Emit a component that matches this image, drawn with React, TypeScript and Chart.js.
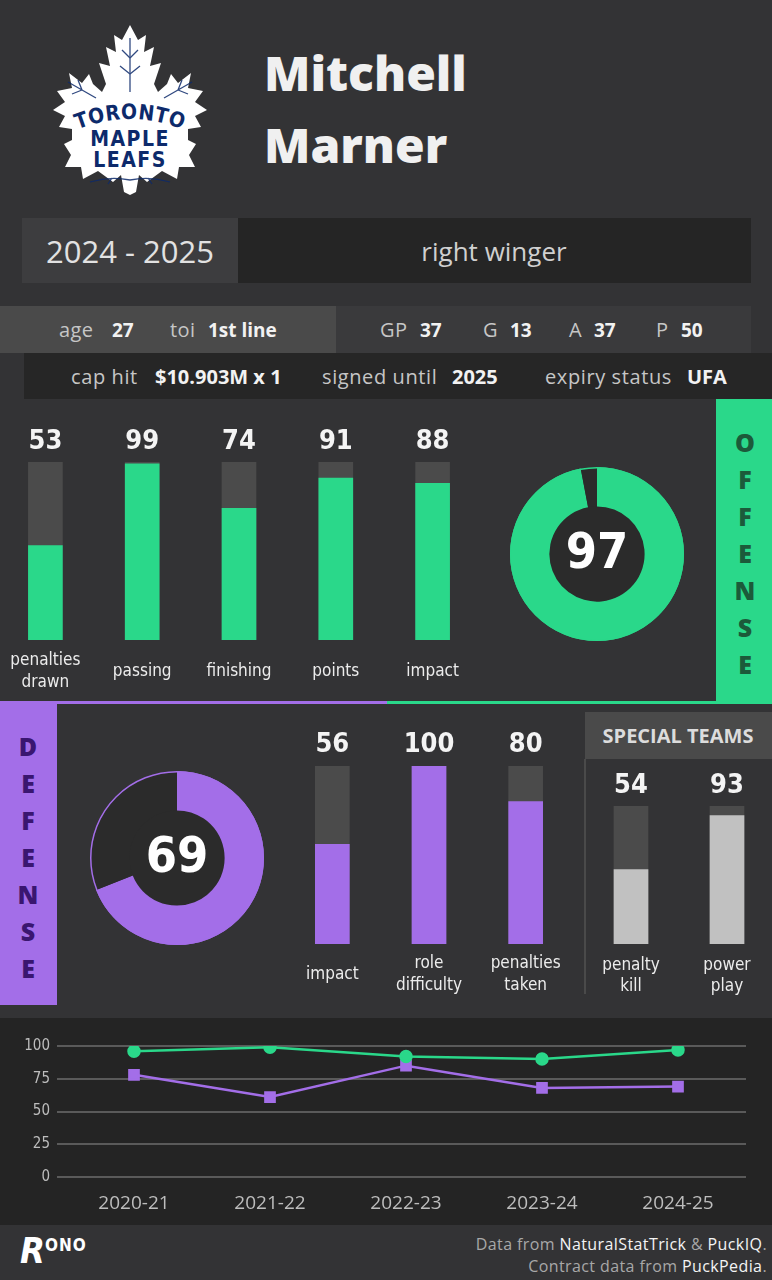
import React, { useEffect, useRef } from "react";
import { Chart, registerables } from "chart.js";

Chart.register(...registerables);

// ---------- data ----------
const FIRST_NAME = "Mitchell";
const LAST_NAME = "Marner";
const SEASON = "2024 - 2025";
const POSITION = "right winger";
const INFO_ROW = [
  { label: "age", value: "27", lx: 59, vx: 112 },
  { label: "toi", value: "1st line", lx: 170, vx: 208 },
  { label: "GP", value: "37", lx: 380, vx: 420 },
  { label: "G", value: "13", lx: 483, vx: 510 },
  { label: "A", value: "37", lx: 569, vx: 594 },
  { label: "P", value: "50", lx: 656, vx: 681 },
];
const CONTRACT_ROW = [
  { label: "cap hit", value: "$10.903M x 1", lx: 71, vx: 155 },
  { label: "signed until", value: "2025", lx: 322, vx: 452 },
  { label: "expiry status", value: "UFA", lx: 545, vx: 687 },
];

const OFFENSE_LABELS = [["penalties", "drawn"], ["passing"], ["finishing"], ["points"], ["impact"]];
const OFFENSE_VALUES = [53, 99, 74, 91, 88];
const OFFENSE_SCORE = 97;

const DEFENSE_LABELS = [["impact"], ["role", "difficulty"], ["penalties", "taken"]];
const DEFENSE_VALUES = [56, 100, 80];
const DEFENSE_SCORE = 69;

const SPECIAL_LABELS = [["penalty", "kill"], ["power", "play"]];
const SPECIAL_VALUES = [54, 93];

const SEASONS = ["2020-21", "2021-22", "2022-23", "2023-24", "2024-25"];
const OFFENSE_TREND = [96, 99, 92, 90, 97];
const DEFENSE_TREND = [78, 61, 85, 68, 69];
const Y_STEP = 25;
const SCALE_MAX = 100;

// ---------- style ----------
const BG = "#333335";
const GREEN = "#2ad88a";
const PURPLE = "#a36ee8";
const TRACK = "#4b4b4b";
const LIGHT = "#c1c1c1";
const HOLE = "#2b2b2b";
const UI = '"Open Sans", "Noto Sans", sans-serif';
const COND = '"DejaVu Sans Condensed", "DejaVu Sans", sans-serif';

type BarProps = {
  left: number; top: number; width: number; height: number;
  padTop: number; padBottom: number;
  labels: string[][]; values: number[]; color: string;
  valueGap: number; oneLine: number; twoLine: [number, number];
};

function BarPanel(p: BarProps) {
  const ref = useRef<HTMLCanvasElement>(null);
  useEffect(() => {
    const textPlugin = {
      id: "barText",
      afterDraw(chart: any) {
        const { ctx, chartArea } = chart;
        const xs = chart.scales.x;
        ctx.save();
        ctx.textAlign = "center";
        ctx.textBaseline = "middle";
        p.values.forEach((v, i) => {
          const x = xs.getPixelForValue(i);
          ctx.fillStyle = "#f4f4f4";
          ctx.font = `bold 27px ${COND}`;
          ctx.fillText(String(v), x, chartArea.top - p.valueGap);
          ctx.font = `17px ${COND}`;
          ctx.fillStyle = "#ececec";
          const lines = p.labels[i];
          if (lines.length === 1) ctx.fillText(lines[0], x, chartArea.bottom + p.oneLine);
          else lines.forEach((l, j) => ctx.fillText(l, x, chartArea.bottom + p.twoLine[j]));
        });
        ctx.restore();
      },
    };
    const chart = new Chart(ref.current as HTMLCanvasElement, {
      type: "bar",
      data: {
        labels: p.labels.map((l) => l.join(" ")),
        datasets: [
          { data: p.values, backgroundColor: p.color, barThickness: 34, grouped: false, order: 0 } as any,
          { data: p.values.map(() => SCALE_MAX), backgroundColor: TRACK, barThickness: 34, grouped: false, order: 1 } as any,
        ],
      },
      options: {
        animation: false,
        responsive: false,
        maintainAspectRatio: false,
        layout: { padding: { top: p.padTop, bottom: p.padBottom, left: 0, right: 0 } },
        plugins: { legend: { display: false }, tooltip: { enabled: false } },
        scales: {
          x: { display: false, offset: true },
          y: { display: false, min: 0, max: SCALE_MAX },
        },
      },
      plugins: [textPlugin],
    });
    return () => chart.destroy();
  }, []);
  return (
    <canvas
      ref={ref}
      width={p.width}
      height={p.height}
      style={{ position: "absolute", left: p.left, top: p.top, width: p.width, height: p.height }}
    />
  );
}

function Donut({ cx, cy, score, color }: { cx: number; cy: number; score: number; color: string }) {
  const ref = useRef<HTMLCanvasElement>(null);
  useEffect(() => {
    const center = {
      id: "donutCenter",
      beforeDatasetsDraw(chart: any) {
        const { ctx } = chart;
        const a = chart.getDatasetMeta(0).data[0];
        ctx.save();
        ctx.beginPath();
        ctx.arc(a.x, a.y, a.innerRadius + 1, 0, Math.PI * 2);
        ctx.fillStyle = HOLE;
        ctx.fill();
        ctx.restore();
      },
      afterDatasetsDraw(chart: any) {
        const { ctx } = chart;
        const a = chart.getDatasetMeta(0).data[0];
        ctx.save();
        ctx.beginPath();
        ctx.arc(a.x, a.y, a.outerRadius - 0.75, 0, Math.PI * 2);
        ctx.strokeStyle = color;
        ctx.lineWidth = 1.5;
        ctx.stroke();
        ctx.fillStyle = "#ffffff";
        ctx.font = `bold 50px ${COND}`;
        ctx.textAlign = "center";
        ctx.textBaseline = "middle";
        ctx.fillText(String(score), a.x, a.y + 1);
        ctx.restore();
      },
    };
    const chart = new Chart(ref.current as HTMLCanvasElement, {
      type: "doughnut",
      data: {
        labels: ["score", "rest"],
        datasets: [{ data: [score, SCALE_MAX - score], backgroundColor: [color, HOLE], borderWidth: 0 }],
      },
      options: {
        animation: false,
        responsive: false,
        maintainAspectRatio: false,
        radius: 87,
        cutout: 52,
        plugins: { legend: { display: false }, tooltip: { enabled: false } },
      } as any,
      plugins: [center],
    });
    return () => chart.destroy();
  }, []);
  return (
    <canvas ref={ref} width={190} height={190}
      style={{ position: "absolute", left: cx - 95, top: cy - 95, width: 190, height: 190 }} />
  );
}

function TrendChart() {
  const ref = useRef<HTMLCanvasElement>(null);
  useEffect(() => {
    const chart = new Chart(ref.current as HTMLCanvasElement, {
      type: "line",
      data: {
        labels: SEASONS,
        datasets: [
          { label: "offense", data: OFFENSE_TREND, borderColor: GREEN, backgroundColor: GREEN, borderWidth: 2.5, pointStyle: "circle", pointRadius: 5.5, tension: 0 },
          { label: "defense", data: DEFENSE_TREND, borderColor: PURPLE, backgroundColor: PURPLE, borderWidth: 2.5, pointStyle: "rect", pointRadius: 6.5, tension: 0 },
        ],
      },
      options: {
        animation: false,
        responsive: false,
        maintainAspectRatio: false,
        layout: { padding: { top: 28, right: 26, left: 0, bottom: 0 } },
        plugins: { legend: { display: false }, tooltip: { enabled: false } },
        scales: {
          x: {
            offset: true,
            grid: { display: false },
            border: { display: false },
            ticks: { color: "#bdbdbd", font: { family: UI, size: 19 }, padding: 7 },
            afterFit: (s: any) => { s.height = 48; },
          },
          y: {
            min: 0,
            max: SCALE_MAX,
            ticks: { stepSize: Y_STEP, color: "#bdbdbd", font: { family: COND, size: 15 }, padding: 7 },
            grid: { color: "#5a5a5a", lineWidth: 2, tickLength: 9, drawTicks: true },
            border: { display: false },
            afterFit: (s: any) => { s.width = 66; },
          },
        },
      } as any,
    });
    return () => chart.destroy();
  }, []);
  return <canvas ref={ref} width={772} height={207} style={{ position: "absolute", left: 0, top: 1018, width: 772, height: 207 }} />;
}

function Box({ x, y, w, h, bg }: { x: number; y: number; w: number; h: number; bg: string }) {
  return <div style={{ position: "absolute", left: x, top: y, width: w, height: h, background: bg }} />;
}

function Txt({ x, y, size, color, weight = 400, family = UI, anchor = "start", children, ls = 0 }: any) {
  const style: any = {
    position: "absolute", top: y - size, height: size * 2, lineHeight: `${size * 2}px`,
    fontSize: size, fontWeight: weight, color, fontFamily: family, whiteSpace: "nowrap", letterSpacing: ls,
  };
  if (anchor === "middle") { style.left = x; style.transform = "translateX(-50%)"; }
  else if (anchor === "end") { style.right = 772 - x; }
  else style.left = x;
  return <div style={style}>{children}</div>;
}

function Leaf() {
  const half = [
    [80, 3], [88, 18], [96, 13], [94, 30], [104, 25], [100, 44], [111, 41], [104, 62], [108, 70],
    [117, 62], [121, 52], [128, 61], [141, 51], [138, 66], [153, 69], [145, 80], [157, 88], [145, 94],
    [151, 105], [138, 107], [138, 118], [146, 122], [139, 133], [145, 145], [129, 145], [127, 157],
    [112, 149], [97, 160], [89, 153], [86, 170], [80, 173],
  ];
  const right = half.slice(1, -1);
  const left = right.map(([x, y]) => [160 - x, y]).reverse();
  const pts = [half[0], ...right, half[half.length - 1], ...left].map((q) => q.join(",")).join(" ");
  const NAVY = "#0d2a6b";
  return (
    <svg width={160} height={176} style={{ position: "absolute", left: 50, top: 22 }}>
      <polygon points={pts} fill="#ffffff" />
      <g stroke={NAVY} strokeWidth={1.3} fill="none" opacity={0.85}>
        <path d="M80 16 L80 70" />
        <path d="M80 36 L72 28 M80 36 L88 28 M80 52 L70 44 M80 52 L90 44" />
        <path d="M114 76 L142 60 M128 68 L132 58 M128 68 L138 72" />
        <path d="M46 76 L18 60 M32 68 L28 58 M32 68 L22 72" />
        <path d="M40 160 Q60 154 80 158 Q100 154 120 160 M62 156 L58 162 M98 156 L102 162" />
      </g>
      <defs>
        <path id="arcT" d="M26 108 Q80 86 134 108" />
      </defs>
      <text fill={NAVY} fontFamily={COND} fontWeight={700} fontSize={21} letterSpacing={0.5}>
        <textPath href="#arcT" startOffset="50%" textAnchor="middle">TORONTO</textPath>
      </text>
      <text x={80} y={124} fill={NAVY} fontFamily={COND} fontWeight={700} fontSize={21} textAnchor="middle" letterSpacing={1.5}>MAPLE</text>
      <text x={80} y={145} fill={NAVY} fontFamily={COND} fontWeight={700} fontSize={21} textAnchor="middle" letterSpacing={1.5}>LEAFS</text>
    </svg>
  );
}

function SideWord({ word, x, y0, step, color }: { word: string; x: number; y0: number; step: number; color: string }) {
  return (
    <>
      {word.split("").map((c, i) => (
        <Txt key={i} x={x} y={y0 + i * step} size={25} weight={800} color={color} anchor="middle">{c}</Txt>
      ))}
    </>
  );
}

export default function App() {
  return (
    <div style={{ position: "relative", width: 772, height: 1280, background: BG, overflow: "hidden", fontFamily: UI }}>
      <style>{"body{margin:0;background:#333335}"}</style>
      <Leaf />
      <Txt x={264} y={73} size={48} weight={800} color="#f0f0f0">{FIRST_NAME}</Txt>
      <Txt x={264} y={145} size={48} weight={800} color="#f0f0f0">{LAST_NAME}</Txt>

      <Box x={22} y={218} w={216} h={65} bg="#3d3d3f" />
      <Box x={238} y={218} w={513} h={65} bg="#252525" />
      <Txt x={130} y={251} size={31} color="#e2e2e2" anchor="middle">{SEASON}</Txt>
      <Txt x={494} y={251} size={26} color="#d0d0d0" anchor="middle">{POSITION}</Txt>

      <Box x={0} y={306} w={336} h={47} bg="#4a4a4a" />
      <Box x={336} y={306} w={415} h={47} bg="#3a3a3c" />
      {INFO_ROW.map((r, i) => (
        <React.Fragment key={i}>
          <Txt x={r.lx} y={330} size={20} color="#c6c6c6" ls={0.4}>{r.label}</Txt>
          <Txt x={r.vx} y={330} size={19} weight={700} color="#f2f2f2">{r.value}</Txt>
        </React.Fragment>
      ))}
      <Box x={24} y={353} w={748} h={46} bg="#262626" />
      {CONTRACT_ROW.map((r, i) => (
        <React.Fragment key={i}>
          <Txt x={r.lx} y={377} size={20} color="#c6c6c6" ls={0.6}>{r.label}</Txt>
          <Txt x={r.vx} y={377} size={20} weight={700} color="#f2f2f2">{r.value}</Txt>
        </React.Fragment>
      ))}

      {/* offense */}
      <Box x={716} y={399} w={56} h={304} bg={GREEN} />
      <SideWord word="OFFENSE" x={745} y0={442} step={37} color="#1c5a3a" />
      <BarPanel left={-3} top={400} width={484} height={300} padTop={62} padBottom={60}
        labels={OFFENSE_LABELS} values={OFFENSE_VALUES} color={GREEN}
        valueGap={20} oneLine={32} twoLine={[21, 43]} />
      <Donut cx={597} cy={554} score={OFFENSE_SCORE} color={GREEN} />

      <Box x={0} y={701} w={387} h={3} bg={PURPLE} />
      <Box x={387} y={701} w={385} h={3} bg={GREEN} />

      {/* defense */}
      <Box x={0} y={704} w={57} h={301} bg={PURPLE} />
      <SideWord word="DEFENSE" x={28} y0={746} step={37} color="#3a1670" />
      <Donut cx={177} cy={858} score={DEFENSE_SCORE} color={PURPLE} />
      <BarPanel left={284} top={720} width={290} height={290} padTop={46} padBottom={66}
        labels={DEFENSE_LABELS} values={DEFENSE_VALUES} color={PURPLE}
        valueGap={21} oneLine={31} twoLine={[20, 42]} />

      {/* special teams */}
      <Box x={585} y={712} w={187} h={47} bg="#4a4a4a" />
      <Txt x={678} y={736} size={20} weight={700} color="#dcdcdc" anchor="middle">SPECIAL TEAMS</Txt>
      <Box x={584} y={759} w={2} h={235} bg="#4a4a4a" />
      <BarPanel left={583} top={760} width={192} height={250} padTop={46} padBottom={66}
        labels={SPECIAL_LABELS} values={SPECIAL_VALUES} color={LIGHT}
        valueGap={20} oneLine={31} twoLine={[22, 43]} />

      {/* trend */}
      <Box x={0} y={1018} w={772} h={207} bg="#242424" />
      <TrendChart />

      {/* footer */}
      <div style={{ position: "absolute", left: 20, top: 1232, color: "#fff", fontFamily: COND, fontWeight: 700, display: "flex", alignItems: "flex-start" }}>
        <span style={{ fontSize: 36, lineHeight: "38px", fontStyle: "italic" }}>R</span>
        <span style={{ fontSize: 17, lineHeight: "20px", marginTop: 3, letterSpacing: 1 }}>ONO</span>
      </div>
      <Txt x={767} y={1244} size={16} color="#a8a8a8" anchor="end" ls={0.4}>
        Data from <span style={{ color: "#f4f4f4" }}>NaturalStatTrick</span> &amp; <span style={{ color: "#f4f4f4" }}>PuckIQ</span>.
      </Txt>
      <Txt x={767} y={1266} size={16} color="#a8a8a8" anchor="end" ls={0.4}>
        Contract data from <span style={{ color: "#f4f4f4" }}>PuckPedia</span>.
      </Txt>
    </div>
  );
}
